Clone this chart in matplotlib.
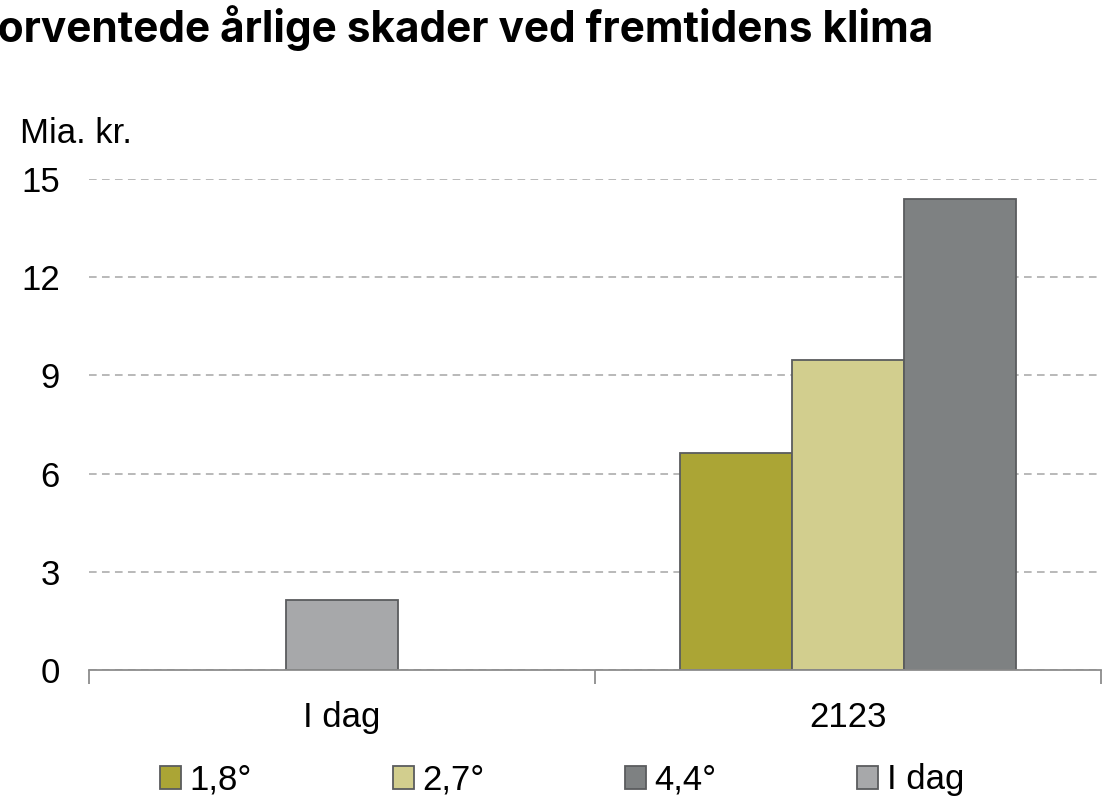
import matplotlib
matplotlib.use("Agg")
import matplotlib.pyplot as plt
from matplotlib.patches import Patch

# data
categories = ["I dag", "2123"]
scenarios = ["1,8°", "2,7°", "4,4°"]
scenario_values = [6.63, 9.47, 14.39]
today_label = "I dag"
today_value = 2.14
yticks = [0, 3, 6, 9, 12, 15]

colors = {"1,8°": "#aba535", "2,7°": "#d2ce8e", "4,4°": "#7e8182", "I dag": "#a7a8aa"}
edge = "#5a5c5e"

plt.rcParams["font.family"] = ["Liberation Sans", "DejaVu Sans"]
fs = 25

fig = plt.figure(figsize=(11.12, 8.0), dpi=100)
ax = fig.add_axes([89 / 1112, 1 - 670 / 800, (1101 - 89) / 1112, (670 - 179) / 800])

width = 0.222
x = list(range(len(categories)))

ax.bar(x[0], today_value, width, color=colors[today_label], edgecolor=edge, linewidth=1.3, zorder=3)
for i, (name, val) in enumerate(zip(scenarios, scenario_values)):
    ax.bar(x[1] + (i - 1) * width, val, width, color=colors[name], edgecolor=edge, linewidth=1.3, zorder=3)

ax.set_xlim(-0.5, 1.5)
ax.set_ylim(0, 15)
ax.set_yticks(yticks)
ax.set_yticklabels([str(v) for v in yticks], fontsize=fs)
ax.tick_params(axis="y", length=0, pad=21)
ax.yaxis.grid(True, color="#a6a6a6", linestyle=(0, (5, 3.5)), linewidth=1.1, zorder=0)

ax.set_xticks(x)
ax.set_xticklabels(categories, fontsize=fs)
ax.tick_params(axis="x", length=0, pad=22)
ax.set_xticks([-0.5, 0.5, 1.5], minor=True)
ax.tick_params(axis="x", which="minor", length=10, width=1.3, color="#8c8c8c")

for s in ["left", "right", "top"]:
    ax.spines[s].set_visible(False)
ax.spines["bottom"].set_color("#8c8c8c")
ax.spines["bottom"].set_linewidth(1.3)
ax.spines["bottom"].set_zorder(4)

fig.text(20 / 1112, 1 - 143 / 800, "Mia. kr.", fontsize=fs, ha="left", va="baseline")

# title is cut at the left edge in the original
fig.text(933 / 1112, 1 - 42 / 800, "Forventede årlige skader ved fremtidens klima",
         fontsize=30.5, fontweight="bold", family=["Inter", "DejaVu Sans"],
         ha="right", va="baseline")

# legend: equally spaced entries like the original
legend_names = scenarios + [today_label]
legend_x = [160, 393, 625, 857]
for name, lx in zip(legend_names, legend_x):
    fig.legend(handles=[Patch(facecolor=colors[name], edgecolor=edge, linewidth=1.3)],
               labels=[name], loc="center left", bbox_to_anchor=(lx / 1112, 1 - 780 / 800),
               frameon=False, fontsize=fs, handlelength=0.6, handleheight=0.65,
               handletextpad=0.25, borderpad=0, borderaxespad=0)

fig.savefig("out.png", dpi=100)
